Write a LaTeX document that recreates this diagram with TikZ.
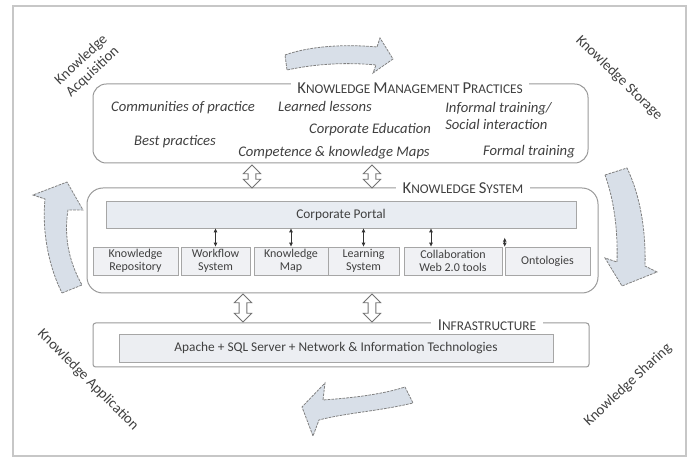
\documentclass[tikz,border=0pt]{standalone}
\usepackage{fontspec}
\setmainfont{Carlito}
\usepackage{tikz}
\usetikzlibrary{arrows.meta,shapes.arrows}

\newcommand{\fakesc}[2]{{\fontsize{12.5}{14}\selectfont #1}{\fontsize{10}{12}\selectfont #2}}

\begin{document}
\begin{tikzpicture}[x=0.75pt,y=0.75pt,yscale=-1,xscale=1,
  txt/.style={text=black!75, inner sep=0.75pt},
  prac/.style={txt, font=\fontsize{11}{13}\selectfont\itshape, align=left},
  cyclelabel/.style={txt, font=\fontsize{11}{12.5}\selectfont, align=center},
  title/.style={txt, fill=white, inner xsep=5pt, inner ysep=1pt},
  layer/.style={draw=black!40, line width=0.75, inner sep=0pt},
  module/.style={draw=black!35, fill={rgb,255:red,240;green,241;blue,244}, txt, inner sep=0pt, font=\fontsize{9}{10}\selectfont, align=center, minimum height=21pt},
  flow/.style={draw=black!50, fill={rgb,255:red,216;green,223;blue,232}, line width=0.6, dash pattern=on 2pt off 0.8pt},
  dblarrow/.style={double arrow, draw=black!55, fill=white, rotate=90, inner xsep=0pt, inner ysep=2.6pt, double arrow head extend=3.6pt, line width=0.6},
  link/.style={{Latex[length=3pt,width=3pt]}-{Latex[length=3pt,width=3pt]}, black!80, line width=0.5}
]
\useasboundingbox (0,0) rectangle (693,459);

%Shape: Rectangle frame
\draw [black!22, line width=1.5] (13,6) rectangle (686,456);

%Shape: Rounded Rect practices
\node [layer, rounded corners=10, minimum width=371.25pt, minimum height=59.25pt] (kmp) at (340.5,123.5) {};
%Shape: Rounded Rect system
\node [layer, rounded corners=12, minimum width=383.25pt, minimum height=78.75pt] (ks) at (342.5,240.5) {};
%Shape: Rectangle infrastructure
\node [layer, rounded corners=2, minimum width=372pt, minimum height=33pt] (inf) at (341,345) {};

% Text Node titles
\node [title] (kmpt) at (410,88) {\fakesc{K}{NOWLEDGE} \fakesc{M}{ANAGEMENT} \fakesc{P}{RACTICES}};
\node [title] (kst) at (463,188) {\fakesc{K}{NOWLEDGE} \fakesc{S}{YSTEM}};
\node [title] (inft) at (487,325) {\fakesc{I}{NFRASTRUCTURE}};

% Text Node practices
\node [prac] (cop) at (183,108) {Communities of practice};
\node [prac] (bp) at (175,142) {Best practices};
\node [prac] (ll) at (325,106) {Learned lessons};
\node [prac] (ce) at (370,130) {Corporate Education};
\node [prac] (ckm) at (334,153) {Competence \& knowledge Maps};
\node [prac, anchor=west] (ist) at (444,116) {Informal training/\\Social interaction};
\node [prac] (ft) at (529,152) {Formal training};

%Shape: Rectangle portal
\node [module, fill={rgb,255:red,232;green,236;blue,242}, font=\fontsize{10}{12}\selectfont, minimum width=352.5pt, minimum height=20.25pt] (cp) at (341,214.5) {Corporate Portal};

% modules
\node [module, minimum width=63.75pt] (kr) at (135.5,261) {Knowledge\\Repository};
\node [module, minimum width=51.75pt] (wf) at (215.5,261) {Workflow\\System};
\node [module, minimum width=55.5pt] (km) at (291,261) {Knowledge\\Map};
\node [module, minimum width=53.25pt] (ls) at (363.5,261) {Learning\\System};
\node [module, minimum width=73.5pt] (cl) at (453,261) {Collaboration\\Web 2.0 tools};
\node [module, minimum width=63.75pt] (on) at (547.5,261) {Ontologies};

%Straight Lines links
\draw [link] (wf.north) -- (wf.north |- cp.south);
\draw [link] (km.north) -- (km.north |- cp.south);
\draw [link] (ls.north) -- (ls.north |- cp.south);
\draw [link] ([xshift=-16.5pt]cl.north) -- ([xshift=-16.5pt]cl.north |- cp.south);
\draw [link] (on.north west) -- ++(0,-9);

%Shape: Rectangle apache
\node [module, fill={rgb,255:red,236;green,238;blue,242}, font=\fontsize{10}{12}\selectfont, minimum width=325.5pt, minimum height=21pt] (ap) at (336,348) {Apache + SQL Server + Network \& Information Technologies};

%Shape: Double Arrows
\node [dblarrow, minimum height=17.25pt] (da1) at (252,176.5) {};
\node [dblarrow, minimum height=17.25pt] (da2) at (372,176.5) {};
\node [dblarrow, minimum height=21pt] (da3) at (243,308) {};
\node [dblarrow, minimum height=21pt] (da4) at (372,308) {};

%Curve Lines cycle arrows
\draw [flow] (285,55) .. controls (310,46) and (345,44) .. (377,47) -- (380,38) -- (393,59) -- (373,73) -- (376,65) .. controls (345,62) and (315,64) .. (287,70) -- cycle;
\draw [flow] (605,175) -- (627,168) .. controls (640,195) and (646,230) .. (645,266) -- (657,272) -- (622,286) -- (605,258) -- (617,262) .. controls (618,230) and (614,200) .. (605,175) -- cycle;
\draw [flow] (405,387) -- (413,403) .. controls (380,411) and (345,413) .. (319,420) -- (313,436) -- (302,407) -- (325,383) -- (323,400) .. controls (350,398) and (380,395) .. (405,387) -- cycle;
\draw [flow] (62,293) -- (82,285) .. controls (68,260) and (64,235) .. (68,210) -- (83,210) -- (67,182) -- (33,195) -- (45,199) .. controls (42,230) and (48,265) .. (62,293) -- cycle;

% Text Node cycle labels
\node [cyclelabel, rotate=43] (acq) at (87,66) {Knowledge\\Acquisition};
\node [cyclelabel, rotate=-44] (sto) at (619,78) {Knowledge Storage};
\node [cyclelabel, rotate=43] (sha) at (628,385) {Knowledge Sharing};
\node [cyclelabel, rotate=-45] (app) at (88,380) {Knowledge Application};

\end{tikzpicture}
\end{document}
